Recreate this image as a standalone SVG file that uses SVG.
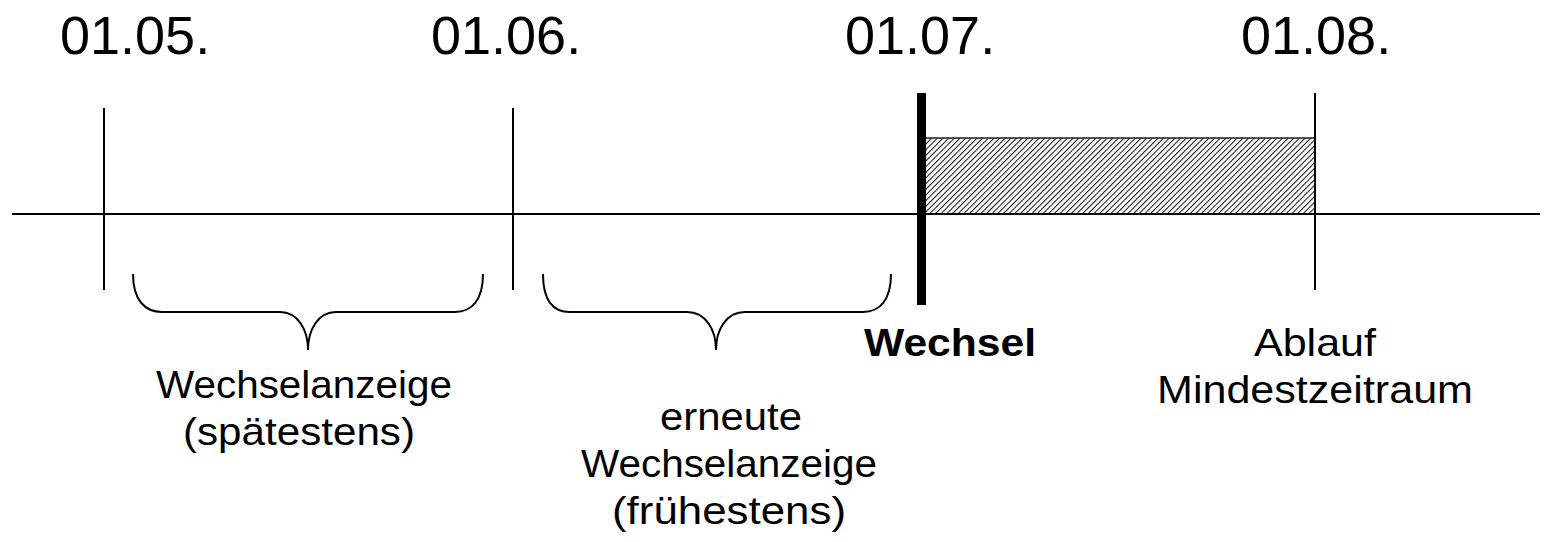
<svg xmlns="http://www.w3.org/2000/svg" width="1554" height="542" viewBox="0 0 1554 542">
<style>
.date{font-family:"Liberation Sans",Arial,sans-serif;font-size:54px;fill:#000}
.lbl{font-family:"Liberation Sans",Arial,sans-serif;font-size:39px;fill:#000;text-anchor:middle}
.bold{font-family:"Liberation Sans",Arial,sans-serif;font-size:39px;font-weight:bold;fill:#000}
.ln{stroke:#000;stroke-width:2;fill:none}
.brace{stroke:#000;stroke-width:2;fill:none}
</style>
<defs>
<pattern id="hatch" width="4" height="4" patternUnits="userSpaceOnUse" patternTransform="rotate(45)">
<rect width="4" height="4" fill="#fff"/>
<line x1="0" y1="0" x2="0" y2="4" stroke="#222" stroke-width="2.2"/>
</pattern>
</defs>
<g id="dates">
<text class="date" x="60" y="54">01.05.</text>
<text class="date" x="431" y="54">01.06.</text>
<text class="date" x="845" y="54">01.07.</text>
<text class="date" x="1241" y="54">01.08.</text>
</g>
<g id="period">
<rect x="922" y="138" width="393" height="76" fill="url(#hatch)" stroke="#222" stroke-width="1.5"/>
</g>
<g id="connectors">
<line class="ln" x1="12" y1="214" x2="1540" y2="214"/>
<line class="ln" x1="104" y1="108" x2="104" y2="290"/>
<line class="ln" x1="513" y1="108" x2="513" y2="290"/>
<line class="ln" x1="1315" y1="93" x2="1315" y2="290"/>
<rect x="917" y="93" width="9" height="212" fill="#000"/>
</g>
<g id="brace1">
<path class="brace" d="M133,274 C133,300 145,312 162,312 L280,312 C298,312 308,330 308,350 C308,330 318,312 336,312 L455,312 C472,312 483,300 483,274"/>
<text class="lbl" x="304" y="398" textLength="296" lengthAdjust="spacingAndGlyphs">Wechselanzeige</text>
<text class="lbl" x="299" y="445" textLength="232" lengthAdjust="spacingAndGlyphs">(spätestens)</text>
</g>
<g id="brace2">
<path class="brace" d="M543,274 C543,300 553,312 570,312 L687,312 C706,312 716,330 716,350 C716,330 726,312 745,312 L863,312 C880,312 891,300 891,274"/>
<text class="lbl" x="731" y="430" textLength="142" lengthAdjust="spacingAndGlyphs">erneute</text>
<text class="lbl" x="729" y="477" textLength="296" lengthAdjust="spacingAndGlyphs">Wechselanzeige</text>
<text class="lbl" x="729" y="524" textLength="234" lengthAdjust="spacingAndGlyphs">(frühestens)</text>
</g>
<g id="wechsel">
<text class="bold" x="864" y="356" textLength="172" lengthAdjust="spacingAndGlyphs">Wechsel</text>
</g>
<g id="ablauf">
<text class="lbl" x="1315" y="356" textLength="122" lengthAdjust="spacingAndGlyphs">Ablauf</text>
<text class="lbl" x="1315" y="403" textLength="316" lengthAdjust="spacingAndGlyphs">Mindestzeitraum</text>
</g>
</svg>
